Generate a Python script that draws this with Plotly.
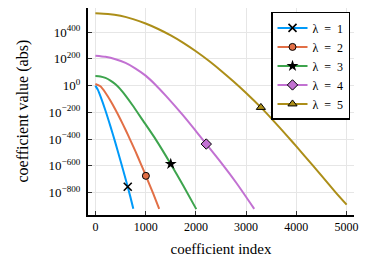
import plotly.graph_objects as go

# ---- data (index, log10 |coefficient|) ----
labels = ["λ\u2002=\u20021", "λ\u2002=\u20022", "λ\u2002=\u20023", "λ\u2002=\u20024", "λ\u2002=\u20025"]
colors = ["#009af9", "#e26f46", "#3da44d", "#c271d2", "#ac8e18"]

n1 = [0, 50, 100, 200, 300, 400, 500, 600, 700, 755]
v1 = [0, -32, -79, -186, -305, -430, -562, -697, -838, -922]

n2 = [0, 100, 200, 300, 400, 500, 600, 700, 800, 900, 1000, 1100, 1200, 1270]
v2 = [12, -5, -53, -113, -180, -253, -330, -411, -494, -581, -670, -761, -854, -922]

n3 = [0, 100, 200, 300, 400, 500, 600, 736, 948, 1200, 1499, 1750, 2008]
v3 = [72, 69, 58, 38, 10, -28, -75, -145, -262, -402, -586, -750, -924]

n4 = [0, 200, 400, 600, 800, 1000, 1200, 1400, 1750, 2000, 2207, 2479, 2800, 3161]
v4 = [224, 216, 198, 170, 128, 75, 5, -75, -225, -340, -437, -565, -725, -922]

n5 = [0, 250, 500, 750, 1000, 1250, 1500, 1750, 2000, 2250, 2500, 2750, 3000,
      3294, 3500, 3837, 4000, 4322, 4500, 4785, 5000]
v5 = [542, 537, 523, 498, 465, 424, 376, 320, 257, 188, 112, 31, -55,
      -163, -245, -385, -455, -595, -674, -800, -890]

marker_n = [644, 1005, 1500, 2207, 3294]
marker_v = [-757, -675, -586, -437, -163]

x_ticks = [0, 1000, 2000, 3000, 4000, 5000]
y_ticks = [-800, -600, -400, -200, 0, 200, 400]

series_n = [n1, n2, n3, n4, n5]
series_v = [v1, v2, v3, v4, v5]

symbols = ["x-thin", "circle", "star", "diamond", "triangle-up"]
msizes = [8, 7, 9, 8, 8]

FONT = "Liberation Serif"

fig = go.Figure()
for i in range(5):
    fig.add_trace(go.Scatter(
        x=series_n[i], y=series_v[i], mode="lines",
        line=dict(color=colors[i], width=2, shape="spline", smoothing=0.6),
        showlegend=False, hoverinfo="skip"))

def marker_style(i):
    if symbols[i] == "x-thin":
        return dict(symbol="x-thin", size=msizes[i], color="black",
                    line=dict(color="black", width=1.6))
    if symbols[i] == "star":
        return dict(symbol="star", size=msizes[i], color="black",
                    line=dict(color="black", width=0))
    return dict(symbol=symbols[i], size=msizes[i], color=colors[i],
                line=dict(color="black", width=1))

for i in range(5):
    fig.add_trace(go.Scatter(
        x=[marker_n[i]], y=[marker_v[i]], mode="markers",
        marker=marker_style(i), showlegend=False, hoverinfo="skip"))

for i in range(5):
    fig.add_trace(go.Scatter(
        x=[None], y=[None], mode="lines+markers", name=labels[i],
        line=dict(color=colors[i], width=2),
        marker=marker_style(i)))

def sup(v):
    s = str(abs(v))
    return "10<sup>" + ("\u2212" if v < 0 else "") + s + "</sup>"

fig.update_layout(
    width=373, height=266,
    margin=dict(l=80, r=27, t=0, b=59, autoexpand=False),
    paper_bgcolor="white", plot_bgcolor="white",
    font=dict(family=FONT, size=12, color="black"),
    legend=dict(x=0.688, y=0.981, xanchor="left", yanchor="top",
                bgcolor="white", bordercolor="black", borderwidth=1.5,
                font=dict(family=FONT, size=12, color="black"), tracegroupgap=0,
                itemwidth=30),
    xaxis=dict(range=[-147, 5147], tickvals=x_ticks,
               ticktext=[str(t) for t in x_ticks], automargin=False,
               showgrid=True, gridcolor="#e6e6e6", gridwidth=1,
               zeroline=False, showline=True, linecolor="black", linewidth=2,
               ticks="inside", ticklen=4, tickcolor="#333333",
               tickfont=dict(family=FONT, size=12, color="black"),
               title=dict(text="coefficient index",
                          font=dict(family=FONT, size=15, color="black"), standoff=10)),
    yaxis=dict(range=[-968, 581], tickvals=y_ticks,
               ticktext=[sup(t) for t in y_ticks], automargin=False,
               showgrid=True, gridcolor="#e6e6e6", gridwidth=1,
               zeroline=False, showline=True, linecolor="black", linewidth=2,
               ticks="inside", ticklen=4, tickcolor="#333333",
               ticklabelstandoff=3,
               tickfont=dict(family=FONT, size=13, color="black")),
    annotations=[dict(text="coefficient value (abs)", xref="paper", yref="paper",
                      x=-0.248, y=0.5, xanchor="center", yanchor="middle",
                      textangle=-90, showarrow=False,
                      font=dict(family=FONT, size=16, color="black"))],
)

fig.write_html("out.html")
